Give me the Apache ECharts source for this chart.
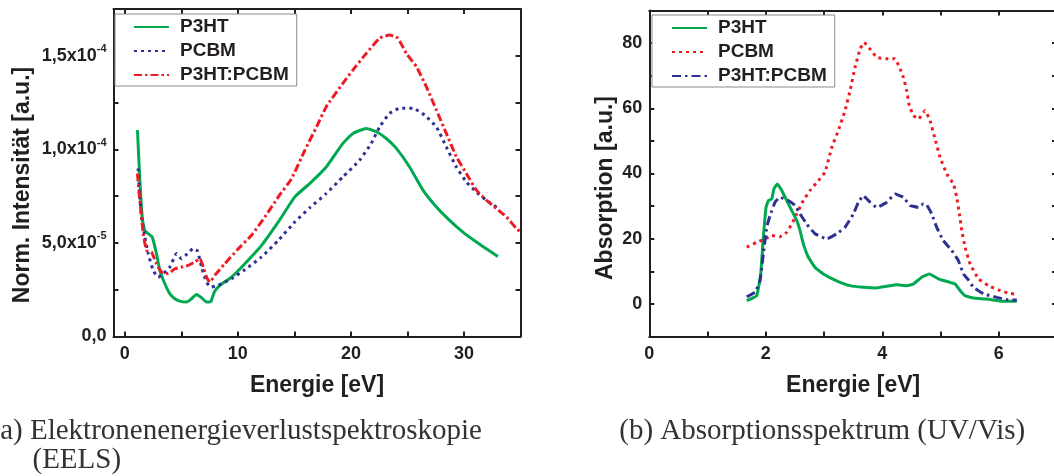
<!DOCTYPE html>
<html>
<head>
<meta charset="utf-8">
<script src="https://cdn.jsdelivr.net/npm/echarts@6.0.0/dist/echarts.min.js"></script>
<style>
  html, body { margin: 0; padding: 0; background: #fff; }
  #chart { width: 1054px; height: 476px; }
</style>
</head>
<body>
<div id="chart"></div>
<script>
// ---- data ----
// (a) EELS, x = energy [eV], y = normalised intensity
const eelsP3ht = [[1.12, 11.03e-5], [1.33, 8.35e-5], [1.54, 6.39e-5], [1.77, 5.67e-5], [2.07, 5.5e-5], [2.42, 5.32e-5],
  [2.8, 4.43e-5], [3.1, 3.53e-5], [3.54, 2.82e-5], [3.98, 2.29e-5], [4.42, 2.02e-5], [4.87, 1.89e-5], [5.46, 1.84e-5],
  [5.9, 2.02e-5], [6.35, 2.25e-5], [6.79, 2.07e-5], [7.23, 1.84e-5], [7.61, 1.87e-5], [7.91, 2.37e-5], [8.41, 2.73e-5],
  [9.44, 3.17e-5], [10.62, 3.89e-5], [12.1, 4.87e-5], [13.58, 6.12e-5], [15.04, 7.46e-5], [16.4, 8.2e-5],
  [17.82, 9.06e-5], [19.29, 10.32e-5], [20.18, 10.85e-5], [21.36, 11.12e-5], [22.25, 10.94e-5], [23.13, 10.58e-5],
  [24.02, 10.05e-5], [25.19, 9.06e-5], [26.37, 7.82e-5], [27.56, 6.92e-5], [28.73, 6.21e-5], [29.91, 5.58e-5],
  [31.1, 5.05e-5], [31.98, 4.69e-5], [33.0, 4.28e-5]];
const eelsPcbm = [[1.18, 8.98e-5], [1.33, 7.46e-5], [1.48, 6.39e-5], [1.77, 5.32e-5], [2.07, 4.43e-5], [2.51, 3.53e-5],
  [2.96, 3.17e-5], [3.4, 3.36e-5], [3.98, 3.71e-5], [4.58, 4.43e-5], [5.02, 4.16e-5], [5.37, 4.34e-5], [6.05, 4.69e-5],
  [6.43, 4.57e-5], [6.79, 3.71e-5], [7.23, 2.91e-5], [7.61, 2.64e-5], [8.26, 2.73e-5], [9.44, 3.09e-5], [10.62, 3.57e-5],
  [12.1, 4.25e-5], [13.58, 5.14e-5], [15.04, 6.12e-5], [16.4, 6.9e-5], [17.82, 7.64e-5], [19.29, 8.53e-5],
  [20.77, 9.42e-5], [21.8, 10.32e-5], [22.54, 11.2e-5], [23.42, 11.92e-5], [24.31, 12.19e-5], [25.49, 12.19e-5],
  [26.52, 11.83e-5], [27.56, 11.2e-5], [28.44, 10.13e-5], [29.33, 9.06e-5], [30.21, 8.26e-5], [31.1, 7.72e-5],
  [31.98, 7.28e-5], [32.9, 6.9e-5]];
const eelsBlend = [[1.12, 8.71e-5], [1.24, 7.82e-5], [1.42, 6.75e-5], [1.63, 5.5e-5], [1.92, 4.6e-5], [2.36, 4.51e-5],
  [2.8, 3.89e-5], [3.25, 3.44e-5], [3.84, 3.36e-5], [4.42, 3.62e-5], [5.02, 3.71e-5], [5.61, 3.8e-5], [6.19, 3.98e-5],
  [6.64, 4.16e-5], [6.94, 3.71e-5], [7.23, 3.17e-5], [7.52, 2.91e-5], [7.96, 3.27e-5], [8.85, 3.89e-5], [10.04, 4.69e-5],
  [11.21, 5.41e-5], [12.39, 6.39e-5], [13.58, 7.46e-5], [14.75, 8.44e-5], [15.93, 9.96e-5], [16.96, 11.2e-5],
  [17.82, 12.28e-5], [19.29, 13.53e-5], [20.18, 14.24e-5], [21.36, 15.13e-5], [22.54, 15.94e-5], [23.42, 16.11e-5],
  [24.16, 15.94e-5], [24.9, 15.13e-5], [25.79, 14.42e-5], [26.67, 13.35e-5], [27.56, 12.1e-5], [28.44, 10.85e-5],
  [29.33, 9.6e-5], [30.21, 8.71e-5], [31.1, 7.82e-5], [31.98, 7.28e-5], [32.87, 6.84e-5], [33.75, 6.39e-5],
  [34.64, 5.77e-5], [35.2, 5.5e-5]];

// (b) UV/Vis, x = energy [eV], y = absorption
const uvP3ht = [[1.673, 1.0], [1.844, 2.5], [1.913, 9.2], [1.958, 20.4], [2.004, 29.6], [2.044, 31.7], [2.102, 32.2],
  [2.141, 35.3], [2.198, 36.8], [2.274, 34.8], [2.36, 31.7], [2.446, 28.6], [2.531, 25.6], [2.588, 22.5], [2.645, 18.4],
  [2.731, 14.3], [2.846, 11.2], [2.988, 9.2], [3.217, 7.1], [3.447, 5.6], [3.675, 5.1], [3.905, 4.9], [4.077, 5.4],
  [4.249, 5.9], [4.42, 5.6], [4.534, 6.1], [4.678, 8.2], [4.808, 9.2], [4.963, 7.7], [5.107, 6.9], [5.25, 6.1],
  [5.336, 4.1], [5.421, 2.5], [5.564, 1.8], [5.794, 1.5], [6.08, 0.8], [6.31, 0.8]];
const uvPcbm = [[1.673, 17.4], [1.844, 18.9], [1.987, 19.9], [2.102, 21.0], [2.244, 20.6], [2.36, 22.0], [2.446, 24.5],
  [2.531, 27.6], [2.645, 31.7], [2.76, 34.8], [2.902, 37.8], [3.017, 40.4], [3.132, 48.0], [3.246, 53.2], [3.361, 59.3],
  [3.447, 65.4], [3.533, 72.6], [3.619, 78.2], [3.687, 80.2], [3.79, 78.2], [3.905, 75.6], [4.077, 75.2], [4.22, 75.2],
  [4.305, 72.1], [4.362, 69.5], [4.42, 65.4], [4.465, 60.8], [4.534, 57.8], [4.62, 56.7], [4.735, 59.3], [4.821, 56.2],
  [4.906, 50.6], [4.992, 45.0], [5.107, 39.9], [5.221, 36.8], [5.279, 32.7], [5.324, 27.6], [5.365, 22.5], [5.421, 17.4],
  [5.507, 12.3], [5.65, 7.7], [5.822, 5.6], [5.993, 4.3], [6.165, 3.3], [6.31, 2.9]];
const uvBlend = [[1.673, 2.2], [1.815, 3.6], [1.901, 7.1], [1.958, 15.3], [2.016, 23.5], [2.073, 27.1], [2.159, 31.2],
  [2.244, 32.7], [2.387, 31.7], [2.502, 30.2], [2.588, 27.6], [2.703, 24.5], [2.846, 21.5], [3.046, 19.9], [3.218, 21.5],
  [3.361, 23.5], [3.504, 27.6], [3.59, 31.2], [3.675, 33.2], [3.79, 31.2], [3.905, 29.6], [4.077, 31.2], [4.22, 33.7],
  [4.362, 32.7], [4.477, 30.2], [4.62, 29.6], [4.706, 30.7], [4.763, 30.4], [4.849, 27.6], [4.935, 23.5], [5.049, 19.4],
  [5.193, 16.4], [5.307, 13.3], [5.393, 9.2], [5.478, 7.4], [5.564, 5.1], [5.736, 3.1], [5.966, 2.0], [6.165, 1.2],
  [6.31, 1.2]];

// ticks / labels
const eelsXTicks = [0, 5, 10, 15, 20, 25, 30, 35];
const eelsXLabels = [0, 10, 20, 30];
const eelsYTicks = [0, 2.5e-5, 5e-5, 7.5e-5, 1e-4, 1.25e-4, 1.5e-4];
const eelsYLabels = [0, 5e-5, 1e-4, 1.5e-4];
const uvXTicks = [0, 1, 2, 3, 4, 5, 6, 7];
const uvXLabels = [0, 2, 4, 6];
const uvYTicks = [0, 10, 20, 30, 40, 50, 60, 70, 80];
const uvYLabels = [0, 20, 40, 60, 80];

const legendNames = ['P3HT', 'PCBM', 'P3HT:PCBM'];

const FONT = '"Liberation Sans", Arial, Helvetica, sans-serif';
const SERIF = '"Liberation Serif", "Times New Roman", serif';
const INK = '#231f20';
const GREEN = '#00a84f';
const BLUE = '#2e3192';
const RED = '#ed1c24';

// 1,5x10^-4 style labels
function sciLabel(v) {
  if (v === 0) return '0,0';
  var exp = Math.floor(Math.log10(v) + 1e-9);
  var mant = v / Math.pow(10, exp);
  return mant.toFixed(1).replace('.', ',') + 'x10{sup|' + exp + '}';
}

function axisPart(gridIndex, min, max, ticks, labels, position, isY, formatter) {
  return {
    type: 'value', gridIndex: gridIndex, min: min, max: max, position: position,
    axisLine: { show: true, onZero: false, lineStyle: { color: INK, width: 2 } },
    axisTick: { show: true, inside: true, length: 5, customValues: ticks, lineStyle: { color: INK, width: 2 } },
    axisLabel: labels ? {
      show: true, customValues: labels, margin: isY ? 7 : 6,
      color: INK, fontFamily: FONT, fontWeight: 'bold', fontSize: 18, lineHeight: 24,
      formatter: formatter,
      rich: { sup: { fontSize: 11, fontWeight: 'bold', fontFamily: FONT, color: INK, verticalAlign: 'top', lineHeight: 11 } }
    } : { show: false },
    splitLine: { show: false }
  };
}

function lineSeries(name, data, xi, yi, color, type, width, smooth) {
  return {
    name: name, type: 'line', data: data, xAxisIndex: xi, yAxisIndex: yi,
    symbol: 'none', showSymbol: false, clip: true, animation: false, smooth: smooth,
    color: color,
    lineStyle: { color: color, width: width, type: type, cap: 'butt' }
  };
}

var chart = echarts.init(document.getElementById('chart'));

var legendBase = {
  orient: 'vertical', itemWidth: 35, itemHeight: 14, itemGap: 4,
  backgroundColor: '#fff', borderColor: '#8c8c8c', borderWidth: 1,
  itemStyle: { opacity: 0 },
  textStyle: { color: INK, fontFamily: FONT, fontWeight: 'bold', fontSize: 19, lineHeight: 20, padding: [0, 0, 0, 6] },
  selectedMode: false
};

var option = {
  backgroundColor: '#fff',
  animation: false,
  grid: [
    { left: 113.5, top: 9, width: 407, height: 327.5, outerBoundsMode: 'none' },
    { left: 649.3, top: 10.5, width: 407.7, height: 326, outerBoundsMode: 'none' }
  ],
  xAxis: [
    Object.assign(axisPart(0, -1, 35, eelsXTicks, eelsXLabels, 'bottom', false, function (v) { return String(v); }), {
      name: 'Energie [eV]', nameLocation: 'middle', nameGap: 38,
      nameTextStyle: { color: INK, fontFamily: FONT, fontWeight: 'bold', fontSize: 23 }
    }),
    axisPart(0, -1, 35, eelsXTicks, null, 'top', false),
    Object.assign(axisPart(1, 0, 7, uvXTicks, uvXLabels, 'bottom', false, function (v) { return String(v); }), {
      name: 'Energie [eV]', nameLocation: 'middle', nameGap: 38,
      nameTextStyle: { color: INK, fontFamily: FONT, fontWeight: 'bold', fontSize: 23 }
    }),
    axisPart(1, 0, 7, uvXTicks, null, 'top', false)
  ],
  yAxis: [
    axisPart(0, 0, 1.75e-4, eelsYTicks, eelsYLabels, 'left', true, sciLabel),
    axisPart(0, 0, 1.75e-4, eelsYTicks, null, 'right', true),
    axisPart(1, -10, 90, uvYTicks, uvYLabels, 'left', true, function (v) { return String(v); }),
    axisPart(1, -10, 90, uvYTicks, null, 'right', true)
  ],
  legend: [
    Object.assign({}, legendBase, {
      left: 115, top: 14, padding: [3, 8, 1, 18],
      data: legendNames
    }),
    Object.assign({}, legendBase, {
      left: 652, top: 15, padding: [3, 8, 1, 19],
      data: legendNames.map(function (n) { return n + ' '; }),
      formatter: function (n) { return n.trim(); }
    })
  ],
  series: [
    lineSeries('P3HT', eelsP3ht, 0, 0, GREEN, 'solid', 3, 0.15),
    lineSeries('PCBM', eelsPcbm, 0, 0, BLUE, [3, 4], 3, 0.15),
    lineSeries('P3HT:PCBM', eelsBlend, 0, 0, RED, [8, 3, 2.5, 3], 3, 0.15),
    lineSeries('P3HT ', uvP3ht, 2, 2, GREEN, 'solid', 3, 0.1),
    lineSeries('PCBM ', uvPcbm, 2, 2, RED, [3, 4], 3, 0.1),
    lineSeries('P3HT:PCBM ', uvBlend, 2, 2, BLUE, [9, 4, 2.5, 4], 3, 0.1)
  ],
  graphic: [
    { type: 'text', x: 23, y: 185, rotation: Math.PI / 2,
      style: { text: 'Norm. Intensität [a.u.]', fill: INK, font: 'bold 23px ' + FONT, align: 'center', verticalAlign: 'middle' } },
    { type: 'text', x: 606, y: 188, rotation: Math.PI / 2,
      style: { text: 'Absorption [a.u.]', fill: INK, font: 'bold 23px ' + FONT, align: 'center', verticalAlign: 'middle' } },
    { type: 'text', x: -9.5, y: 431,
      style: { text: '(a) Elektronenenergieverlustspektroskopie', fill: '#333', font: '29px ' + SERIF, align: 'left', verticalAlign: 'middle' } },
    { type: 'text', x: 32.5, y: 460,
      style: { text: '(EELS)', fill: '#333', font: '29px ' + SERIF, align: 'left', verticalAlign: 'middle' } },
    { type: 'text', x: 619.3, y: 431,
      style: { text: '(b) Absorptionsspektrum (UV/Vis)', fill: '#333', font: '29px ' + SERIF, align: 'left', verticalAlign: 'middle' } }
  ]
};

chart.setOption(option);
window.addEventListener('resize', function () { chart.resize(); });
</script>
</body>
</html>
